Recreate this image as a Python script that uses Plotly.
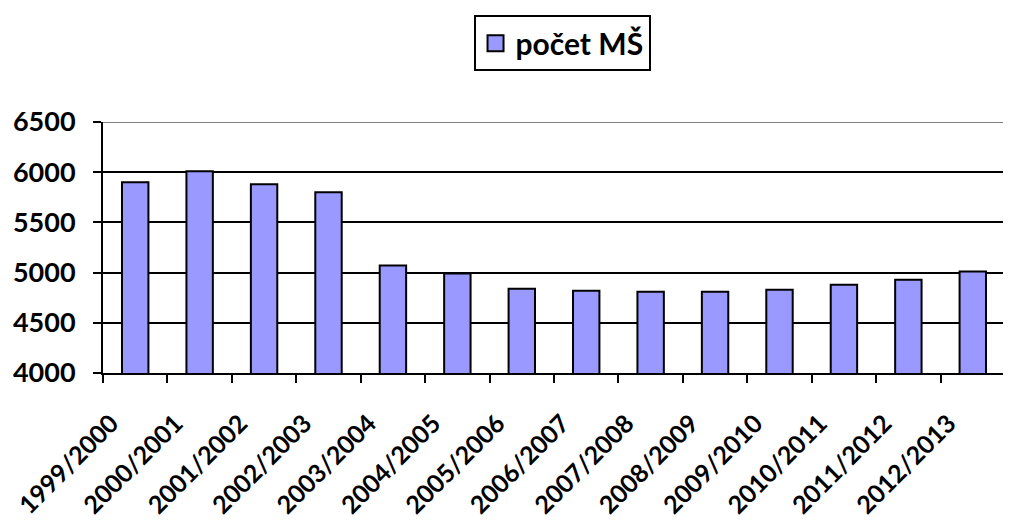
import plotly.graph_objects as go

categories = ["1999/2000", "2000/2001", "2001/2002", "2002/2003", "2003/2004",
              "2004/2005", "2005/2006", "2006/2007", "2007/2008", "2008/2009",
              "2009/2010", "2010/2011", "2011/2012", "2012/2013"]
pocet_ms = [5900, 6010, 5880, 5800, 5070, 4990, 4840, 4820, 4810, 4810,
            4830, 4880, 4930, 5010]
y_ticks = [4000, 4500, 5000, 5500, 6000, 6500]
series_name = "počet MŠ"

FONT = "Lato"
BAR_COLOR = "#9999FF"

fig = go.Figure()
fig.add_trace(go.Bar(
    x=categories, y=pocet_ms, name=series_name, showlegend=False,
    marker=dict(color=BAR_COLOR, line=dict(color="black", width=2)),
))
# legend proxy (larger swatch like the original)
fig.add_trace(go.Scatter(
    x=[None], y=[None], mode="markers", name=series_name,
    marker=dict(symbol="square", size=20, color=BAR_COLOR,
                line=dict(color="black", width=2)),
))

fig.update_layout(
    width=1011, height=523,
    margin=dict(l=95, r=14, t=114, b=158, autoexpand=False),
    plot_bgcolor="white", paper_bgcolor="white",
    bargap=0.59,
    showlegend=True,
    legend=dict(
        xref="container", yref="container",
        x=0.548, y=0.986, xanchor="center", yanchor="top",
        orientation="h",
        bordercolor="black", borderwidth=2,
        font=dict(family=FONT, size=30, color="black", weight="bold"),
        itemwidth=30,
    ),
    font=dict(family=FONT, color="black"),
)
fig.update_xaxes(
    type="category", tickson="boundaries", automargin=False,
    showline=True, linecolor="black", linewidth=2,
    ticks="outside", ticklen=8, tickwidth=2, tickcolor="black",
    tickangle=-45, showgrid=False,
    ticklabelstandoff=24, ticklabelshift=-24,
    tickfont=dict(family=FONT, size=25, color="black", weight="bold"),
    range=[-0.5, 13.5],
)
fig.update_yaxes(
    range=[4000, 6500], tickvals=y_ticks, automargin=False,
    showline=True, linecolor="black", linewidth=2,
    ticks="outside", ticklen=8, tickwidth=2, tickcolor="black",
    ticklabelstandoff=12,
    showgrid=True, gridcolor="black", gridwidth=2,
    tickfont=dict(family=FONT, size=27, color="black", weight="bold"),
    zeroline=False,
)
fig.add_shape(type="line", xref="paper", yref="y", x0=0, x1=1, y0=6500, y1=6500,
              line=dict(color="#808080", width=2), layer="above")

fig.write_html("out.html")
